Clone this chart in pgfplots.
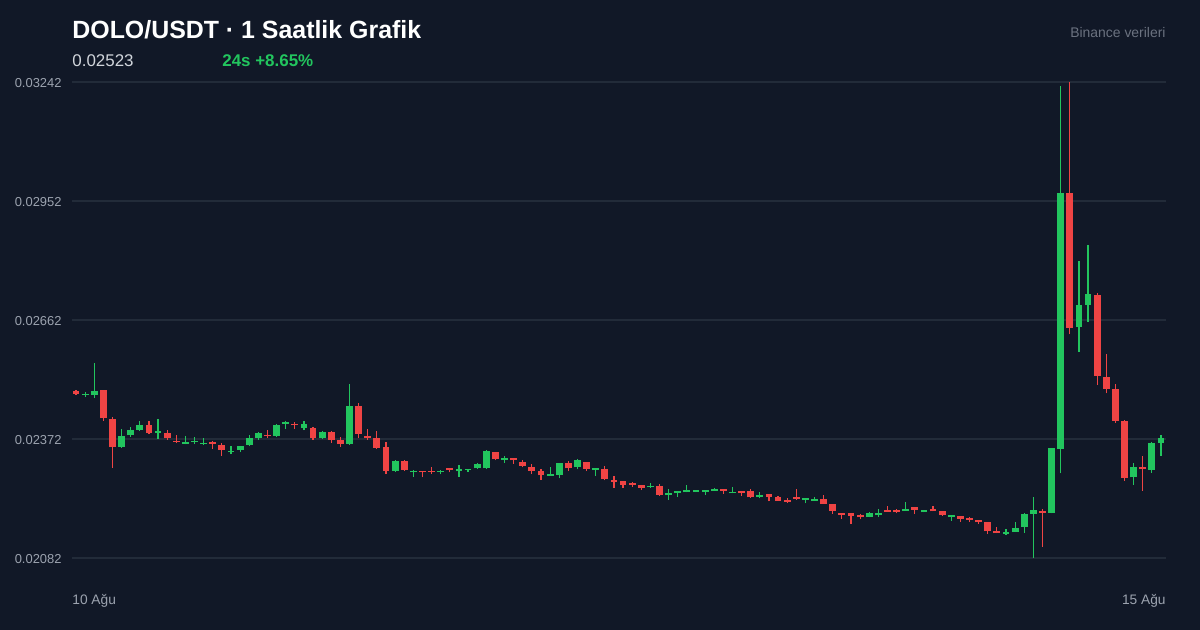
\documentclass[border=0pt]{standalone}
\usepackage{pgfplots}
\pgfplotsset{compat=1.18}
\usepackage{pgfplotstable}
\usepackage{fontspec}
\setmainfont{Liberation Sans}
\definecolor{bg}{HTML}{111827}
\definecolor{gridc}{HTML}{222B39}
\definecolor{tickc}{HTML}{9CA3AF}
\definecolor{pricec}{HTML}{D1D5DB}
\definecolor{srcc}{HTML}{6B7280}
\definecolor{upc}{HTML}{22C55E}
\definecolor{dnc}{HTML}{EF4444}

% x = hour index, o h l c
\pgfplotstableread{
x o h l c
1 0.024792 0.024865 0.024743 0.024817
2 0.024804 0.025572 0.024719 0.024890
5 0.023525 0.023964 0.023501 0.023793
6 0.023817 0.024012 0.023769 0.023939
7 0.023951 0.024159 0.023915 0.024061
9 0.023878 0.024207 0.023720 0.023915
12 0.023598 0.023793 0.023586 0.023635
13 0.023647 0.023769 0.023598 0.023683
14 0.023598 0.023744 0.023574 0.023622
17 0.023403 0.023549 0.023354 0.023427
18 0.023452 0.023549 0.023403 0.023549
19 0.023574 0.023817 0.023549 0.023756
20 0.023744 0.023890 0.023696 0.023854
22 0.023805 0.024085 0.023769 0.024061
23 0.024085 0.024159 0.023964 0.024134
25 0.023988 0.024159 0.023939 0.024085
27 0.023744 0.023915 0.023720 0.023890
30 0.023598 0.025060 0.023574 0.024524
35 0.022952 0.023208 0.022923 0.023184
37 0.022908 0.022964 0.022801 0.022933
40 0.022916 0.022964 0.022855 0.022952
42 0.022928 0.023086 0.022801 0.022996
43 0.022964 0.023001 0.022916 0.022996
44 0.023006 0.023135 0.022989 0.023111
45 0.023006 0.023452 0.022989 0.023420
47 0.023208 0.023306 0.023142 0.023257
52 0.022826 0.023038 0.022826 0.022874
53 0.022850 0.023142 0.022762 0.023128
55 0.023030 0.023233 0.022981 0.023201
57 0.022964 0.023020 0.022826 0.023013
63 0.022543 0.022648 0.022538 0.022575
65 0.022348 0.022509 0.022241 0.022397
66 0.022397 0.022460 0.022306 0.022445
67 0.022421 0.022599 0.022421 0.022470
68 0.022428 0.022477 0.022428 0.022477
69 0.022428 0.022470 0.022355 0.022470
70 0.022460 0.022526 0.022460 0.022494
72 0.022397 0.022550 0.022397 0.022436
75 0.022314 0.022421 0.022275 0.022362
80 0.022233 0.022282 0.022153 0.022282
81 0.022216 0.022314 0.022216 0.022265
87 0.021819 0.021934 0.021812 0.021924
88 0.021861 0.022007 0.021819 0.021909
91 0.021965 0.022177 0.021965 0.022014
93 0.021934 0.021982 0.021934 0.021982
96 0.021812 0.021868 0.021722 0.021861
102 0.021412 0.021527 0.021388 0.021461
103 0.021453 0.021690 0.021453 0.021551
104 0.021583 0.021924 0.021436 0.021892
105 0.021892 0.022299 0.020820 0.021990
107 0.021924 0.023501 0.021909 0.023501
108 0.023476 0.032323 0.022884 0.029708
110 0.026457 0.028058 0.025847 0.026978
111 0.026985 0.028448 0.026579 0.027246
116 0.022787 0.023142 0.022599 0.023030
118 0.022964 0.023647 0.022899 0.023622
119 0.023630 0.023817 0.023306 0.023744
}\up

\pgfplotstableread{
x o h l c
0 0.024890 0.024914 0.024804 0.024817
3 0.024914 0.024914 0.024159 0.024232
4 0.024207 0.024256 0.023013 0.023525
8 0.024061 0.024159 0.023842 0.023878
10 0.023866 0.023939 0.023696 0.023744
11 0.023671 0.023817 0.023622 0.023647
15 0.023647 0.023683 0.023476 0.023610
16 0.023574 0.023622 0.023306 0.023452
21 0.023817 0.023939 0.023744 0.023781
24 0.024085 0.024146 0.023964 0.024049
26 0.023976 0.024012 0.023696 0.023744
28 0.023890 0.023915 0.023622 0.023696
29 0.023696 0.023769 0.023525 0.023598
31 0.024524 0.024597 0.023744 0.023842
32 0.023805 0.023964 0.023696 0.023744
33 0.023744 0.023915 0.023476 0.023501
34 0.023525 0.023647 0.022867 0.022952
36 0.023184 0.023208 0.022940 0.022964
38 0.022940 0.022952 0.022782 0.022904
39 0.022952 0.023038 0.022874 0.022916
41 0.023006 0.023013 0.022908 0.022957
46 0.023396 0.023410 0.023201 0.023225
48 0.023257 0.023264 0.023118 0.023201
49 0.023159 0.023208 0.023030 0.023062
50 0.023045 0.023103 0.022867 0.022947
51 0.022933 0.022981 0.022721 0.022835
54 0.023142 0.023184 0.022940 0.023006
56 0.023152 0.023159 0.022940 0.022989
58 0.022981 0.023062 0.022713 0.022738
59 0.022721 0.022818 0.022533 0.022672
60 0.022689 0.022704 0.022533 0.022606
61 0.022655 0.022660 0.022557 0.022606
62 0.022599 0.022599 0.022477 0.022533
64 0.022575 0.022623 0.022338 0.022355
71 0.022501 0.022509 0.022387 0.022453
73 0.022453 0.022460 0.022338 0.022397
74 0.022445 0.022501 0.022289 0.022299
76 0.022380 0.022387 0.022202 0.022306
77 0.022299 0.022323 0.022216 0.022216
78 0.022241 0.022282 0.022160 0.022192
79 0.022306 0.022509 0.022241 0.022258
82 0.022265 0.022355 0.022143 0.022143
83 0.022129 0.022143 0.021900 0.021973
84 0.021909 0.021909 0.021778 0.021868
85 0.021909 0.021917 0.021656 0.021851
86 0.021861 0.021892 0.021763 0.021812
89 0.021990 0.022087 0.021941 0.021941
90 0.021990 0.022021 0.021909 0.021934
92 0.022055 0.022063 0.021892 0.021990
94 0.022014 0.022094 0.021958 0.021958
95 0.021958 0.021973 0.021851 0.021861
97 0.021843 0.021851 0.021705 0.021778
98 0.021802 0.021812 0.021705 0.021753
99 0.021739 0.021746 0.021656 0.021690
100 0.021697 0.021705 0.021412 0.021471
101 0.021471 0.021575 0.021422 0.021422
106 0.021965 0.022014 0.021095 0.021924
109 0.029708 0.032420 0.026271 0.026432
112 0.027237 0.027271 0.025036 0.025263
113 0.025224 0.025799 0.024834 0.024946
114 0.024931 0.025060 0.024117 0.024159
115 0.024151 0.024190 0.022704 0.022769
117 0.023030 0.023306 0.022460 0.022981
}\down

\begin{document}
\begin{tikzpicture}
\fill[bg] (0,0) rectangle (600bp,315bp);
\begin{axis}[
  at={(36bp,36bp)}, anchor=south west,
  scale only axis, width=547bp, height=238bp,
  xmin=-0.44, xmax=119.55, ymin=0.02082, ymax=0.03242,
  axis line style={draw=none},
  xtick=\empty,
  scaled y ticks=false,
  ytick={0.02082,0.02372,0.02662,0.02952,0.03242},
  yticklabels={0.02082,0.02372,0.02662,0.02952,0.03242},
  major tick length=0pt,
  ymajorgrids, grid style={draw=gridc, line width=0.8bp},
  yticklabel style={anchor=east, inner sep=0pt, xshift=-5bp, yshift=-0.4bp,
    text=tickc, font=\fontsize{6.5}{7}\selectfont},
  clip=false,
]
% wicks
\addplot[draw=none, mark=none, forget plot,
  error bars/.cd, y dir=plus, y explicit, error mark=none,
  error bar style={draw=upc, line width=0.6bp}]
  table[x=x, y=l, y error plus expr=\thisrow{h}-\thisrow{l}] {\up};
\addplot[draw=none, mark=none, forget plot,
  error bars/.cd, y dir=plus, y explicit, error mark=none,
  error bar style={draw=dnc, line width=0.6bp}]
  table[x=x, y=l, y error plus expr=\thisrow{h}-\thisrow{l}] {\down};
% bodies
\addplot[draw=none, mark=none, forget plot,
  error bars/.cd, y dir=plus, y explicit, error mark=none,
  error bar style={draw=upc, line width=3.4bp}]
  table[x=x, y=o, y error plus expr=\thisrow{c}-\thisrow{o}] {\up};
\addplot[draw=none, mark=none, forget plot,
  error bars/.cd, y dir=plus, y explicit, error mark=none,
  error bar style={draw=dnc, line width=3.4bp}]
  table[x=x, y=c, y error plus expr=\thisrow{o}-\thisrow{c}] {\down};
\end{axis}
\node[anchor=base west, inner sep=0pt, text=white, font=\bfseries\fontsize{12.5}{15}\selectfont] at (36bp,295.75bp) {DOLO/USDT · 1 Saatlik Grafik};
\node[anchor=base west, inner sep=0pt, text=pricec, font=\fontsize{8.5}{10}\selectfont] at (36bp,281.6bp) {0.02523};
\node[anchor=base west, inner sep=0pt, text=upc, font=\bfseries\fontsize{8.5}{10}\selectfont] at (111bp,281.6bp) {24s +8.65\%};
\node[anchor=base east, inner sep=0pt, text=srcc, font=\fontsize{7}{8}\selectfont] at (583bp,296.1bp) {Binance verileri};
\node[anchor=base west, inner sep=0pt, text=tickc, font=\fontsize{6.9}{8}\selectfont] at (36bp,13.0bp) {10 Ağu};
\node[anchor=base east, inner sep=0pt, text=tickc, font=\fontsize{6.9}{8}\selectfont] at (583bp,13.0bp) {15 Ağu};
\pgfresetboundingbox
\useasboundingbox (0,0) rectangle (600bp,315bp);
\end{tikzpicture}
\end{document}
